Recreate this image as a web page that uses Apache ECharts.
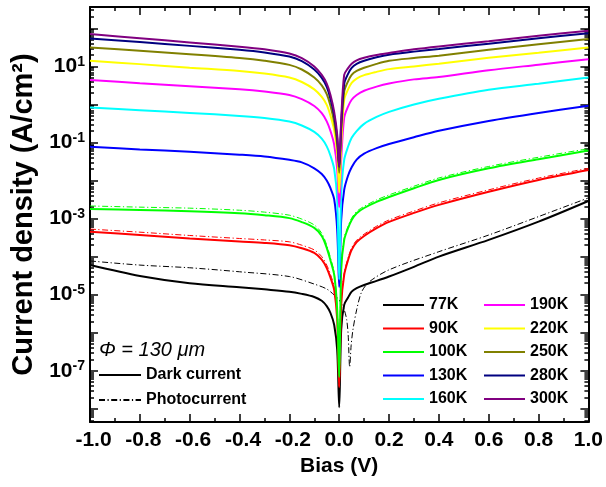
<!DOCTYPE html>
<html><head><meta charset="utf-8">
<script src="https://cdn.jsdelivr.net/npm/echarts@6/dist/echarts.min.js"></script>
<style>html,body{margin:0;padding:0;background:#fff}#c{width:606px;height:487px}</style>
</head><body><div id="c"></div>
<script>
// ---- data ----
const bias = [-1, -0.8, -0.6, -0.4, -0.3, -0.2, -0.15, -0.1, -0.07, -0.05, -0.035, -0.02, -0.008, 0, 0.008, 0.02, 0.035, 0.05, 0.07, 0.1, 0.15, 0.2, 0.3, 0.4, 0.6, 0.8, 1];
const temps = ['77K', '90K', '100K', '130K', '160K', '190K', '220K', '250K', '280K', '300K'];
const colors = ['#000000', '#FF0000', '#00FF00', '#0000FF', '#00FFFF', '#FF00FF', '#FFFF00', '#808000', '#000080', '#800080'];
const dark77  = [6.0e-5, 3.1e-5, 2.0e-5, 1.57e-5, 1.38e-5, 1.2e-5, 1.05e-5, 8.7e-6, 6.9e-6, 5.0e-6, 3.3e-6, 1.6e-6, 3.5e-7, 1.1e-8, 1.2e-6, 5.4e-6, 8.3e-6, 1.2e-5, 1.48e-5, 1.8e-5, 2.3e-5, 3.0e-5, 5.4e-5, 1.0e-4, 2.75e-4, 8.3e-4, 2.9e-3];
const dark90  = [4.5e-4, 3.7e-4, 3.0e-4, 2.5e-4, 2.3e-4, 2.0e-4, 1.66e-4, 1.25e-4, 8.3e-5, 5.0e-5, 2.8e-5, 1.33e-5, 2.2e-6, 3.7e-8, 5.4e-6, 3.3e-5, 7.9e-5, 1.5e-4, 2.4e-4, 3.5e-4, 5.6e-4, 8.2e-4, 1.41e-3, 2.3e-3, 5.1e-3, 1.04e-2, 1.9e-2];
const dark100 = [1.8e-3, 1.69e-3, 1.57e-3, 1.39e-3, 1.23e-3, 1.03e-3, 8.1e-4, 5.7e-4, 3.5e-4, 1.7e-4, 7.9e-5, 3.3e-5, 4.0e-6, 6.8e-8, 4.5e-5, 2.75e-4, 5.5e-4, 9.2e-4, 1.38e-3, 1.9e-3, 2.75e-3, 3.7e-3, 6.3e-3, 1.04e-2, 2.1e-2, 3.65e-2, 6.15e-2];
const dark130 = [0.077, 0.066, 0.057, 0.048, 0.043, 0.035, 0.030, 0.021, 0.0148, 0.010, 0.0063, 0.0032, 5.0e-4, 1.6e-5, 9.2e-4, 0.0057, 0.0132, 0.0224, 0.0355, 0.051, 0.071, 0.091, 0.138, 0.204, 0.37, 0.60, 0.92];
const dark160 = [0.834, 0.71, 0.60, 0.50, 0.44, 0.355, 0.28, 0.19, 0.126, 0.079, 0.045, 0.020, 0.0032, 2.5e-5, 0.0042, 0.035, 0.076, 0.133, 0.20, 0.31, 0.47, 0.64, 1.0, 1.41, 2.44, 3.5, 5.1];
const dark190 = [4.39, 3.63, 3.02, 2.51, 2.19, 1.78, 1.38, 0.91, 0.59, 0.36, 0.20, 0.087, 0.020, 0.002, 0.035, 0.45, 0.87, 1.33, 1.78, 2.3, 2.95, 3.55, 4.57, 5.26, 7.94, 11.1, 15.5];
const dark220 = [14.1, 11.5, 9.3, 7.6, 6.5, 5.1, 3.9, 2.5, 1.58, 0.98, 0.51, 0.21, 0.050, 0.0048, 0.087, 1.33, 2.45, 3.7, 4.8, 5.9, 7.2, 8.5, 10, 11.8, 16.9, 22.9, 31.6];
const dark250 = [31.6, 25.7, 20.9, 16.6, 14.1, 11.0, 8.3, 5.1, 3.16, 1.86, 0.93, 0.34, 0.089, 0.016, 0.19, 2.16, 4.0, 6.0, 7.6, 9.2, 11.7, 14.1, 16.6, 19.1, 27.5, 38.4, 52.6];
const dark280 = [54.6, 43.7, 34.7, 27.5, 23.4, 18.2, 13.8, 8.3, 5.0, 2.9, 1.41, 0.50, 0.126, 0.023, 0.29, 3.5, 6.3, 9.2, 11.7, 14.1, 17.4, 20.3, 24.5, 28.7, 39.6, 55.2, 74.8];
const dark300 = [71.3, 55, 42.7, 33.1, 28.2, 21.9, 16.6, 10, 6.0, 3.55, 1.78, 0.63, 0.16, 0.023, 0.40, 6.0, 8.9, 11.8, 14.5, 16.9, 20, 22.5, 28.2, 33.6, 46, 64.3, 87];
const photo90  = [5.3e-4, 4.4e-4, 3.6e-4, 3.0e-4, 2.75e-4, 2.45e-4, 2.0e-4, 1.5e-4, 1.0e-4, 6.0e-5, 3.4e-5, 1.6e-5, 2.6e-6, 4e-8, 6.0e-6, 3.7e-5, 9.0e-5, 1.7e-4, 2.7e-4, 3.9e-4, 6.3e-4, 9.2e-4, 1.58e-3, 2.6e-3, 5.7e-3, 1.16e-2, 2.1e-2];
const photo100 = [2.15e-3, 2.0e-3, 1.88e-3, 1.66e-3, 1.48e-3, 1.23e-3, 9.7e-4, 6.8e-4, 4.1e-4, 2.0e-4, 9.3e-5, 3.8e-5, 4.5e-6, 8e-8, 5.0e-5, 3.1e-4, 6.2e-4, 1.03e-3, 1.54e-3, 2.1e-3, 3.1e-3, 4.2e-3, 7.1e-3, 1.17e-2, 2.35e-2, 4.1e-2, 6.9e-2];
const biasPhoto77 = [-1, -0.8, -0.6, -0.4, -0.2, -0.1, -0.05, -0.02, 0, 0.02, 0.03, 0.036, 0.042, 0.048, 0.055, 0.07, 0.09, 0.12, 0.2, 0.4, 0.6, 0.8, 1];
const photo77 = [7.7e-5, 6.0e-5, 5.1e-5, 4.0e-5, 3.0e-5, 1.9e-5, 1.41e-5, 9.8e-6, 7.3e-6, 4.0e-6, 2.2e-6, 8.7e-7, 1.25e-7, 4.7e-7, 1.18e-6, 4.0e-6, 1.18e-5, 2.16e-5, 4.5e-5, 1.35e-4, 3.7e-4, 1.13e-3, 3.5e-3];
const yMajorTicks = [1e-8, 1e-7, 1e-6, 1e-5, 1e-4, 1e-3, 1e-2, 1e-1, 1, 10, 100];
const yLabelTicks = [1e-7, 1e-5, 1e-3, 1e-1, 10];
const yMin = 4.5e-9, yMax = 365;

const darks = [dark77, dark90, dark100, dark130, dark160, dark190, dark220, dark250, dark280, dark300];
const photos = {0: [biasPhoto77, photo77], 1: [bias, photo90], 2: [bias, photo100]};

const FONT = 'Liberation Sans, Arial, sans-serif';
const DASHDOT = [6, 2.5, 1.2, 2.5];
const SMOOTH = 0.3;

// minor tick values (2..9 per decade) inside the axis range
const yMinorTicks = [];
for (let e = -9; e <= 2; e++) for (let k = 2; k <= 9; k++) {
  const v = k * Math.pow(10, e);
  if (v > yMin && v < yMax) yMinorTicks.push(v);
}

const series = [];
darks.forEach((arr, i) => {
  series.push({
    type: 'line', name: temps[i], data: bias.map((v, j) => [v, arr[j]]),
    symbol: 'none', showSymbol: false, smooth: SMOOTH,
    lineStyle: {color: colors[i], width: 2}, itemStyle: {color: colors[i]}
  });
  if (photos[i]) {
    const [bx, by] = photos[i];
    series.push({
      type: 'line', name: temps[i] + ' photo', data: bx.map((v, j) => [v, by[j]]),
      symbol: 'none', showSymbol: false, smooth: SMOOTH,
      lineStyle: {color: colors[i], width: 1, type: DASHDOT}, itemStyle: {color: colors[i]}
    });
  }
});
series.push({type: 'line', name: 'Dark current', data: [], symbol: 'none',
  lineStyle: {color: '#000', width: 2}, itemStyle: {color: '#000'}});
series.push({type: 'line', name: 'Photocurrent', data: [], symbol: 'none',
  lineStyle: {color: '#000', width: 1, type: DASHDOT}, itemStyle: {color: '#000'}});

const axisLine = {show: true, onZero: false, lineStyle: {color: '#000', width: 2}};
const noLine = {show: false, onZero: false};
const xBase = {type: 'value', min: -1, max: 1, interval: 0.2, splitLine: {show: false},
  axisLine: axisLine,
  axisTick: {show: true, inside: true, length: 8, lineStyle: {color: '#000', width: 1.5}},
  minorTick: {show: true, splitNumber: 2, length: 4, lineStyle: {color: '#000', width: 1.5}}};
const yBase = {type: 'log', logBase: 10, min: yMin, max: yMax, splitLine: {show: false}, minorSplitLine: {show: false}};
const legendText = {fontSize: 16, fontWeight: 'bold', color: '#000', fontFamily: FONT};
const legendItem = {opacity: 0, color: 'transparent', borderWidth: 0};

const option = {
  animation: false,
  backgroundColor: '#fff',
  grid: {left: 90, right: 16, top: 7, bottom: 65, containLabel: false},
  title: {text: 'Φ = 130 μm', left: 99, top: 340, padding: 0,
    textStyle: {fontSize: 20, fontStyle: 'italic', fontWeight: 'normal', color: '#000', fontFamily: FONT}},
  legend: [
    {data: temps.slice(0, 5), orient: 'vertical', left: 382, top: 297, itemWidth: 41, itemHeight: 16, itemGap: 7.5,
      padding: 0, selectedMode: false, itemStyle: legendItem, textStyle: legendText},
    {data: temps.slice(5), orient: 'vertical', left: 483, top: 297, itemWidth: 41, itemHeight: 16, itemGap: 7.5,
      padding: 0, selectedMode: false, itemStyle: legendItem, textStyle: legendText},
    {data: ['Dark current', 'Photocurrent'], orient: 'vertical', left: 98, top: 367, itemWidth: 42, itemHeight: 16, itemGap: 9,
      padding: 0, selectedMode: false, itemStyle: legendItem, textStyle: legendText}
  ],
  xAxis: [
    Object.assign({}, xBase, {position: 'bottom', name: 'Bias (V)', nameLocation: 'middle', nameGap: 32,
      nameTextStyle: {fontSize: 21, fontWeight: 'bold', color: '#000', fontFamily: FONT},
      axisLabel: {show: true, margin: 8, color: '#000', fontFamily: FONT,
        formatter: v => (v < -1e-9 ? '{n|' : '{p|') + v.toFixed(1) + '}',
        rich: {p: {fontSize: 21, fontWeight: 'bold', fontFamily: FONT, color: '#000'},
               n: {fontSize: 21, fontWeight: 'bold', fontFamily: FONT, color: '#000', padding: [0, 0, 0, 7]}}}}),
    Object.assign({}, xBase, {position: 'top', axisLabel: {show: false}})
  ],
  yAxis: [
    Object.assign({}, yBase, {position: 'left', axisLine: axisLine,
      name: 'Current density (A/cm²)', nameLocation: 'middle', nameGap: 47,
      nameTextStyle: {fontSize: 29, fontWeight: 'bold', color: '#000', fontFamily: FONT},
      axisTick: {show: true, inside: true, length: 8, customValues: yMajorTicks, lineStyle: {color: '#000', width: 1.5}},
      axisLabel: {show: true, margin: 5, customValues: yLabelTicks, color: '#000', fontFamily: FONT,
        formatter: v => '{b|10}{s|' + Math.round(Math.log10(v)) + '}',
        rich: {b: {fontSize: 21, fontWeight: 'bold', lineHeight: 23, fontFamily: FONT, color: '#000'},
               s: {fontSize: 14, fontWeight: 'bold', verticalAlign: 'top', lineHeight: 14, fontFamily: FONT, color: '#000'}}}}),
    Object.assign({}, yBase, {position: 'right', axisLine: axisLine,
      axisTick: {show: true, inside: true, length: 8, customValues: yMajorTicks, lineStyle: {color: '#000', width: 1.5}},
      axisLabel: {show: false}}),
    Object.assign({}, yBase, {position: 'left', axisLine: noLine,
      axisTick: {show: true, inside: true, length: 4, customValues: yMinorTicks, lineStyle: {color: '#000', width: 1.5}},
      axisLabel: {show: false}}),
    Object.assign({}, yBase, {position: 'right', axisLine: noLine,
      axisTick: {show: true, inside: true, length: 4, customValues: yMinorTicks, lineStyle: {color: '#000', width: 1.5}},
      axisLabel: {show: false}})
  ],
  series: series
};
const chart = echarts.init(document.getElementById('c'), null, {renderer: 'canvas'});
chart.setOption(option);
</script>
</body></html>
